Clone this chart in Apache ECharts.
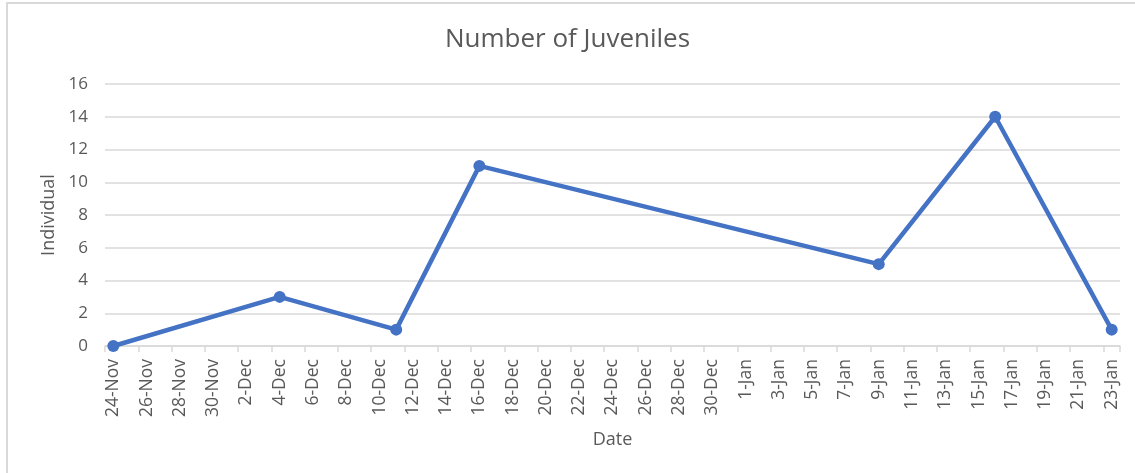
<!DOCTYPE html>
<html>
<head>
<meta charset="utf-8">
<script src="https://cdn.jsdelivr.net/npm/echarts@6/dist/echarts.min.js"></script>
<style>
  html, body { margin: 0; padding: 0; background: #ffffff; }
  #frame { position: absolute; left: 6px; top: 2px; width: 1129px; height: 471px;
           border-left: 2px solid #d9d9d9; border-top: 2px solid #d9d9d9; box-sizing: border-box; }
  #chart { position: absolute; left: 0; top: 0; width: 1135px; height: 473px; }
</style>
</head>
<body>
<div id="frame"></div>
<div id="chart"></div>
<script>
// Daily date axis, 24-Nov to 23-Jan
const days = [
  '24-Nov','25-Nov','26-Nov','27-Nov','28-Nov','29-Nov','30-Nov',
  '1-Dec','2-Dec','3-Dec','4-Dec','5-Dec','6-Dec','7-Dec','8-Dec','9-Dec','10-Dec',
  '11-Dec','12-Dec','13-Dec','14-Dec','15-Dec','16-Dec','17-Dec','18-Dec','19-Dec','20-Dec',
  '21-Dec','22-Dec','23-Dec','24-Dec','25-Dec','26-Dec','27-Dec','28-Dec','29-Dec','30-Dec','31-Dec',
  '1-Jan','2-Jan','3-Jan','4-Jan','5-Jan','6-Jan','7-Jan','8-Jan','9-Jan','10-Jan',
  '11-Jan','12-Jan','13-Jan','14-Jan','15-Jan','16-Jan','17-Jan','18-Jan','19-Jan','20-Jan',
  '21-Jan','22-Jan','23-Jan'
];

// Survey dates and juvenile counts
const surveyDates = ['24-Nov', '4-Dec', '11-Dec', '16-Dec', '9-Jan', '16-Jan', '23-Jan'];
const juveniles = [0, 3, 1, 11, 5, 14, 1];

const yTicks = { min: 0, max: 16, interval: 2 };

const FONT = '"Open Sans", "Liberation Sans", sans-serif';
const TEXT = '#595959';
const GRID = '#d9d9d9';

const chart = echarts.init(document.getElementById('chart'));
chart.setOption({
  animation: false,
  title: {
    text: 'Number of Juveniles',
    left: 'center',
    top: 22,
    textStyle: { fontFamily: FONT, fontSize: 26, fontWeight: 'normal', color: TEXT }
  },
  grid: { left: 105, right: 15, top: 84, bottom: 127, containLabel: false },
  xAxis: {
    type: 'category',
    data: days,
    boundaryGap: true,
    name: 'Date',
    nameLocation: 'middle',
    nameGap: 85,
    nameTextStyle: { fontFamily: FONT, fontSize: 18, color: TEXT },
    axisLine: { lineStyle: { color: GRID, width: 1.5 } },
    axisTick: { show: true, interval: 1, length: 6, lineStyle: { color: GRID, width: 1.5 } },
    axisLabel: {
      interval: 1, rotate: 90, margin: 13,
      fontFamily: FONT, fontSize: 17.5, color: TEXT
    },
    splitLine: { show: false }
  },
  yAxis: {
    type: 'value',
    min: yTicks.min, max: yTicks.max, interval: yTicks.interval,
    name: 'Individual',
    nameLocation: 'middle',
    nameGap: 47,
    nameTextStyle: { fontFamily: FONT, fontSize: 18, color: TEXT },
    axisLine: { show: false },
    axisTick: { show: false },
    axisLabel: { margin: 17, fontFamily: FONT, fontSize: 17, color: TEXT },
    splitLine: { lineStyle: { color: GRID, width: 1.5 } }
  },
  series: [{
    type: 'line',
    data: surveyDates.map((d, i) => [d, juveniles[i]]),
    connectNulls: true,
    showAllSymbol: true,
    symbol: 'circle',
    symbolSize: 12,
    lineStyle: { color: '#4472C4', width: 4.5 },
    itemStyle: { color: '#4472C4' }
  }]
});
</script>
</body>
</html>
